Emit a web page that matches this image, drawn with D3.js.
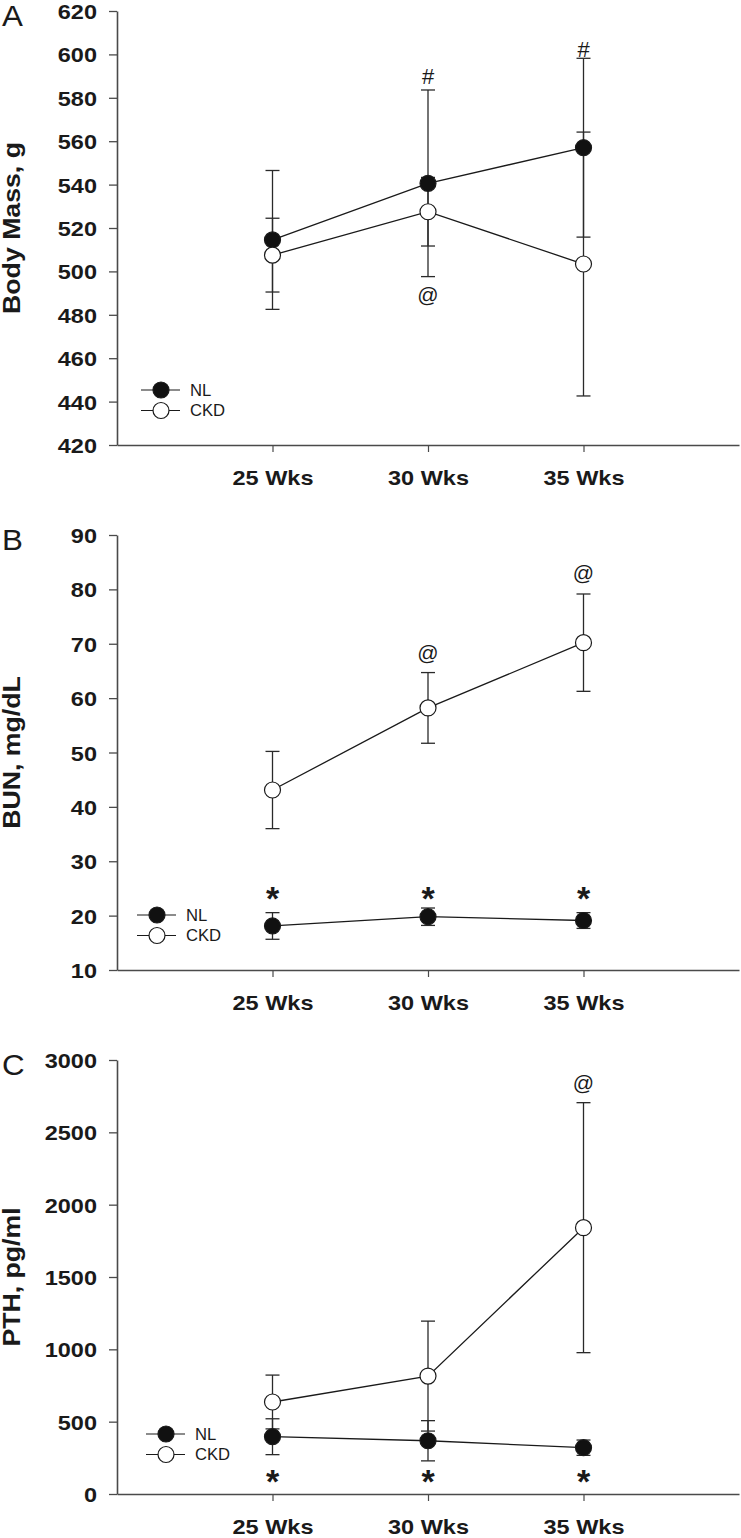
<!DOCTYPE html>
<html>
<head>
<meta charset="utf-8">
<script src="https://cdn.jsdelivr.net/npm/d3@7"></script>
<style>
  html, body { margin: 0; padding: 0; background: #fff; }
  svg { display: block; }
  text { font-family: "Liberation Sans", Arial, Helvetica, sans-serif; fill: #1a1a1a; }
</style>
</head>
<body>
<svg id="chart" width="741" height="1538"></svg>
<script>
// ---------- data ----------
const weeks = [25, 30, 35];
const weekLabels = ["25 Wks", "30 Wks", "35 Wks"];
const seriesNames = ["NL", "CKD"];

// Panel A: Body mass (g), mean and error
const massNL = [514.5, 540.6, 557.0];
const massNLErr = [32.0, 43.0, 41.2];
const massCKD = [507.5, 527.5, 503.4];
const massCKDErr = [17.0, 15.8, 60.8];
const massTicks = [420, 440, 460, 480, 500, 520, 540, 560, 580, 600, 620];

// Panel B: BUN (mg/dL)
const bunNL = [18.1, 19.8, 19.1];
const bunNLErr = [2.45, 1.6, 1.45];
const bunCKD = [43.1, 58.2, 70.2];
const bunCKDErr = [7.1, 6.5, 8.95];
const bunTicks = [10, 20, 30, 40, 50, 60, 70, 80, 90];

// Panel C: PTH (pg/ml)
const pthNL = [396, 368, 320];
const pthNLErr = [124, 139, 53];
const pthCKD = [636, 815, 1841];
const pthCKDErr = [186, 380, 864];
const pthTicks = [0, 500, 1000, 1500, 2000, 2500, 3000];

// Significance marks (week, value where the mark sits, symbol)
const massMarks = [[30, 590, "#"], [35, 602.5, "#"], [30, 488.7, "@"]];
const bunMarks = [[30, 68.1, "@"], [35, 82.85, "@"], [25, 24.5, "*"], [30, 24.5, "*"], [35, 24.5, "*"]];
const pthMarks = [[35, 2832, "@"], [25, 138, "*"], [30, 138, "*"], [35, 138, "*"]];

// ---------- layout ----------
const svg = d3.select("#chart");
const FONT_SX = 1.12;
const x = d3.scaleLinear().domain([20, 40]).range([117, 739]);

const panels = [
  { letter: "A", title: "Body Mass, g", domain: [420, 620], range: [445, 11], ticks: massTicks,
    nl: massNL, nlErr: massNLErr, ckd: massCKD, ckdErr: massCKDErr, marks: massMarks,
    legend: { x: 141, y: 390 } },
  { letter: "B", title: "BUN, mg/dL", domain: [10, 90], range: [970, 535], ticks: bunTicks,
    nl: bunNL, nlErr: bunNLErr, ckd: bunCKD, ckdErr: bunCKDErr, marks: bunMarks,
    legend: { x: 137, y: 915 } },
  { letter: "C", title: "PTH, pg/ml", domain: [0, 3000], range: [1494, 1060], ticks: pthTicks,
    nl: pthNL, nlErr: pthNLErr, ckd: pthCKD, ckdErr: pthCKDErr, marks: pthMarks,
    legend: { x: 146, y: 1434 } }
];

function stretchedText(g, tx, ty, str, opt) {
  const t = g.append("text")
    .attr("transform", `translate(${tx},${ty})${opt.rotate ? " rotate(" + opt.rotate + ")" : ""} scale(${opt.sx || 1},1)`)
    .attr("text-anchor", opt.anchor || "start")
    .style("font-size", opt.size + "px")
    .style("font-weight", opt.weight || "normal")
    .text(str);
  if (opt.dy) t.attr("dy", opt.dy);
  return t;
}

const markStyle = {
  "#": { size: 22, weight: "normal", dy: "0.35em" },
  "@": { size: 21, weight: "normal", dy: "0.28em" },
  "*": { size: 34, weight: "bold", dy: "0.55em" }
};

panels.forEach(p => {
  const y = d3.scaleLinear().domain(p.domain).range(p.range);
  const g = svg.append("g");

  // y axis
  const yAx = g.append("g").attr("transform", `translate(${x.range()[0]},0)`)
    .call(d3.axisLeft(y).tickValues(p.ticks).tickSize(8).tickSizeOuter(0).tickFormat(d3.format("d")));
  yAx.select(".domain").attr("stroke", "#4a4a4a").attr("stroke-width", 1.6);
  yAx.selectAll(".tick line").attr("stroke", "#4a4a4a").attr("stroke-width", 1.3);
  yAx.selectAll(".tick text")
    .attr("x", -20 / FONT_SX).attr("dy", "0.36em")
    .attr("transform", `scale(${FONT_SX},1)`)
    .attr("fill", "#1a1a1a")
    .style("font-size", "21px").style("font-weight", "bold")
    .style("font-family", '"Liberation Sans", Arial, sans-serif');

  // x axis
  const xAx = g.append("g").attr("transform", `translate(0,${p.range[0]})`)
    .call(d3.axisBottom(x).tickValues(weeks).tickSize(7).tickSizeOuter(0)
      .tickFormat((d, i) => weekLabels[i]));
  xAx.select(".domain").attr("stroke", "#4a4a4a").attr("stroke-width", 1.6);
  xAx.selectAll(".tick line").attr("stroke", "#4a4a4a").attr("stroke-width", 1.2);
  xAx.selectAll(".tick text")
    .attr("y", 40).attr("dy", 0)
    .attr("transform", `scale(${FONT_SX},1)`)
    .attr("fill", "#1a1a1a")
    .style("font-size", "21px").style("font-weight", "bold")
    .style("font-family", '"Liberation Sans", Arial, sans-serif');

  // y title
  const midY = (p.range[0] + p.range[1]) / 2;
  stretchedText(g, 20, midY, p.title, { size: 23, weight: "bold", anchor: "middle", rotate: -90, sx: 1.16 });

  // panel letter
  const letterBase = p.range[1] + 15;
  stretchedText(g, 2, letterBase, p.letter, { size: 29, sx: 1.08 });

  const series = [
    { name: "NL", vals: p.nl, errs: p.nlErr, fill: "#111" },
    { name: "CKD", vals: p.ckd, errs: p.ckdErr, fill: "#fff" }
  ];

  // error bars
  series.forEach(s => {
    const eb = g.append("g").attr("stroke", "#2a2a2a").attr("stroke-width", 1.3);
    weeks.forEach((w, i) => {
      const cx = x(w), hi = y(s.vals[i] + s.errs[i]), lo = y(s.vals[i] - s.errs[i]);
      eb.append("line").attr("x1", cx).attr("x2", cx).attr("y1", hi).attr("y2", lo);
      eb.append("line").attr("x1", cx - 7).attr("x2", cx + 7).attr("y1", hi).attr("y2", hi);
      eb.append("line").attr("x1", cx - 7).attr("x2", cx + 7).attr("y1", lo).attr("y2", lo);
    });
  });

  // connecting lines
  const line = d3.line().x((d, i) => x(weeks[i])).y(d => y(d));
  series.forEach(s => {
    g.append("path").datum(s.vals).attr("d", line)
      .attr("fill", "none").attr("stroke", "#1a1a1a").attr("stroke-width", 1.3);
  });

  // symbols
  series.forEach(s => {
    g.append("g").selectAll("circle").data(s.vals).join("circle")
      .attr("cx", (d, i) => x(weeks[i])).attr("cy", d => y(d)).attr("r", 8)
      .attr("fill", s.fill).attr("stroke", "#1a1a1a").attr("stroke-width", 1.2);
  });

  // significance marks
  p.marks.forEach(([w, v, sym]) => {
    const st = markStyle[sym];
    g.append("text").attr("x", x(w)).attr("y", y(v)).attr("dy", st.dy)
      .attr("text-anchor", "middle")
      .style("font-size", st.size + "px").style("font-weight", st.weight)
      .text(sym);
  });

  // legend
  const lg = g.append("g");
  series.forEach((s, k) => {
    const ly = p.legend.y + k * 20.5;
    lg.append("line").attr("x1", p.legend.x).attr("x2", p.legend.x + 39)
      .attr("y1", ly).attr("y2", ly).attr("stroke", "#1a1a1a").attr("stroke-width", 1.2);
    lg.append("circle").attr("cx", p.legend.x + 20).attr("cy", ly).attr("r", 8)
      .attr("fill", s.fill).attr("stroke", "#1a1a1a").attr("stroke-width", 1.2);
    stretchedText(lg, p.legend.x + 49, ly, seriesNames[k], { size: 16, sx: 1.04, dy: "0.36em" });
  });
});
</script>
</body>
</html>
